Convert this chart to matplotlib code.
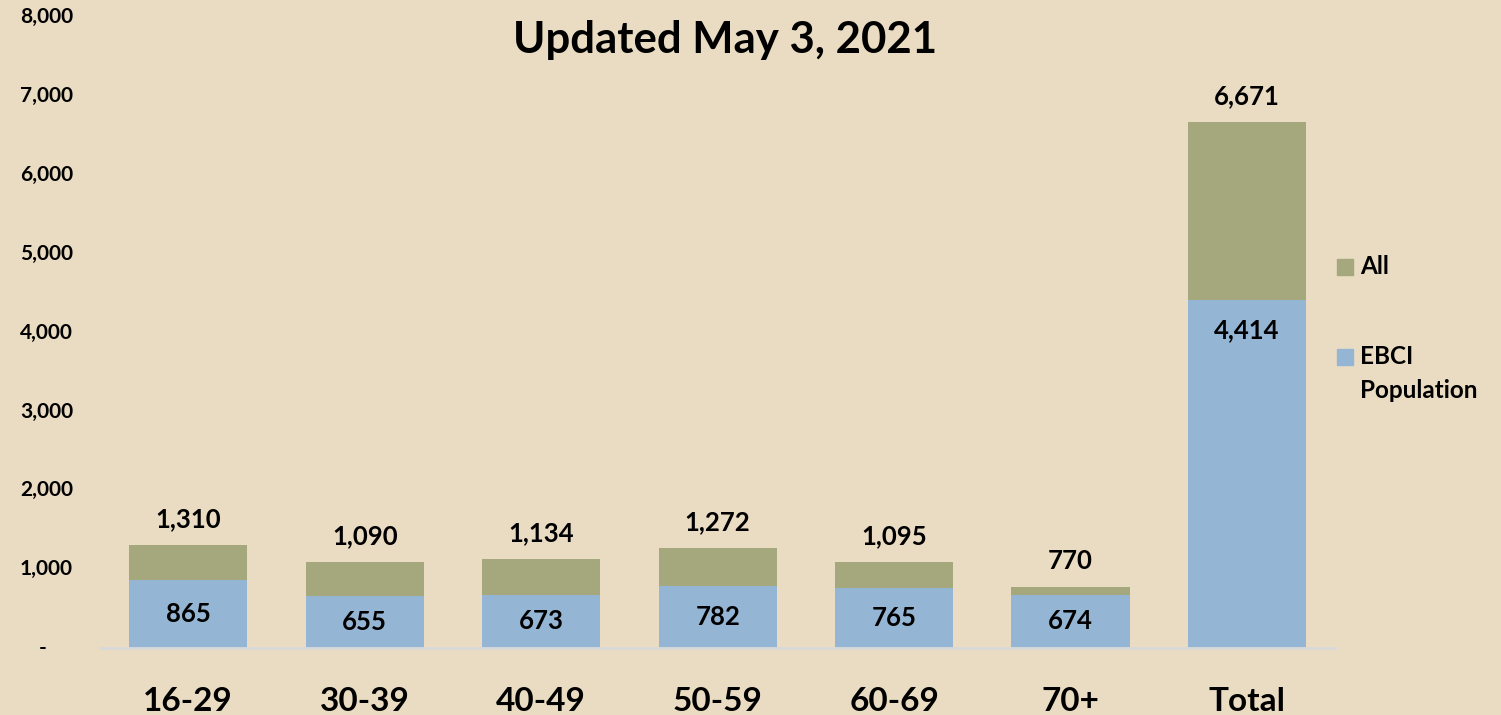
import matplotlib
matplotlib.use("Agg")
import matplotlib.pyplot as plt
from matplotlib.patches import Rectangle
import numpy as np

categories = ["16-29", "30-39", "40-49", "50-59", "60-69", "70+", "Total"]
ebci = [865, 655, 673, 782, 765, 674, 4414]
all_vals = [1310, 1090, 1134, 1272, 1095, 770, 6671]
series_names = ["All", "EBCI\nPopulation"]
title = "Updated May 3, 2021"
yticks = [0, 1000, 2000, 3000, 4000, 5000, 6000, 7000, 8000]

bg = "#EADCC2"
green = "#A4A87C"
blue = "#94B5D4"

plt.rcParams['font.family'] = ['Lato', 'DejaVu Sans']
plt.rcParams['xtick.labelsize'] = 24
plt.rcParams['xtick.major.pad'] = 28

fig = plt.figure(figsize=(15.01, 7.15), dpi=100, facecolor=bg)
ax = fig.add_axes([0.0666, 0.0937, 0.823, 0.882])
ax.set_facecolor(bg)

x = np.arange(len(categories))
w = 0.67
rest = [a - e for a, e in zip(all_vals, ebci)]
ax.bar(x, ebci, width=w, color=blue, zorder=2)
ax.bar(x, rest, width=w, bottom=ebci, color=green, zorder=2)

ax.set_xlim(-0.5, 6.5)
ax.set_ylim(0, 8000)
ax.set_yticks(yticks, labels=[""] * len(yticks))
ylabels = ["-     " if v == 0 else f"{v:,}" for v in yticks]
for v, lab in zip(yticks, ylabels):
    ax.annotate(lab, xy=(0, v), xycoords=('axes fraction', 'data'),
                xytext=(-19.5, 0), textcoords='offset points',
                ha='right', va='center', fontsize=15, fontweight='bold',
                annotation_clip=False)
ax.set_xticks(x, labels=categories)
ax.tick_params(axis='both', length=0)
for t in ax.get_xticklabels():
    t.set_fontsize(24)
    t.set_fontweight('bold')

for s in ['top', 'right', 'left']:
    ax.spines[s].set_visible(False)
ax.spines['bottom'].set_color('#D9D9D9')
ax.spines['bottom'].set_linewidth(2)

# labels
for i in range(len(categories)):
    ax.annotate(f"{all_vals[i]:,}", (x[i], all_vals[i]), xytext=(0, 10),
                textcoords='offset points', ha='center', va='bottom',
                fontsize=18.5, fontweight='bold')
    if categories[i] == "Total":
        ax.annotate(f"{ebci[i]:,}", (x[i], ebci[i]), xytext=(0, -22),
                    textcoords='offset points', ha='center', va='center',
                    fontsize=18.5, fontweight='bold')
    else:
        ax.text(x[i], ebci[i] / 2, f"{ebci[i]:,}", ha='center', va='center',
                fontsize=18.5, fontweight='bold')

fig.text(0.483, 0.944, title, ha='center', va='center', fontsize=31.5, fontweight='bold')

# legend
W, H = 1501, 715
items = [(series_names[0], green, 267), (series_names[1], blue, 357)]
for name, col, py in items:
    fig.patches.append(Rectangle((1337 / W, 1 - (py + 8) / H), 16 / W, 16 / H,
                                 transform=fig.transFigure, color=col))
    fig.text(1360 / W, 1 - (py - 12) / H, name, ha='left', va='top',
             fontsize=17.5, fontweight='bold', linespacing=1.6)

fig.savefig("out.png", dpi=100, facecolor=bg)
